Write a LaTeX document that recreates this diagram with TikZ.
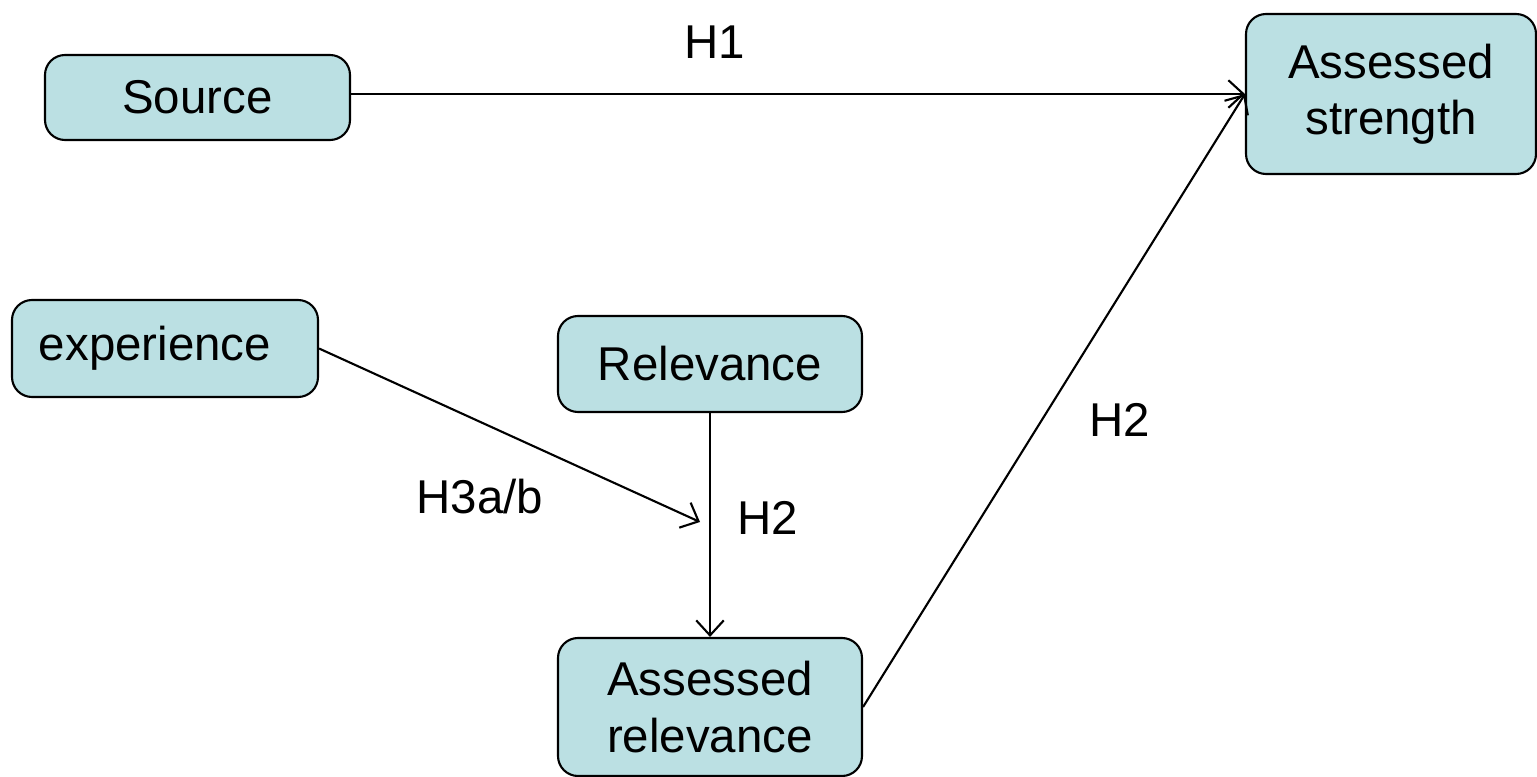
\documentclass[tikz,border=0pt]{standalone}
\usepackage{fontspec}
\setmainfont{Liberation Sans}
\usepackage{tikz}
\usetikzlibrary{positioning, arrows.meta}

\definecolor{boxfill}{HTML}{BBE0E3}

\begin{document}
\begin{tikzpicture}[
    box/.style={draw, line width=1.2pt, rounded corners=0.4cm, fill=boxfill,
                align=center, font=\fontsize{27}{32}\selectfont, inner sep=0pt},
    arr/.style={-{Straight Barb[length=0.3cm, width=0.55cm]}, line width=1.2pt},
    lbl/.style={font=\fontsize{27}{32}\selectfont},
]
\useasboundingbox (0,0) rectangle (30.74,15.52);

\node[box, minimum width=6.1cm, minimum height=1.7cm] (source) at (3.95,13.57) {Source};
\node[box, minimum width=5.8cm, minimum height=3.2cm] (strength) at (27.82,13.64) {Assessed\\strength};
\node[box, minimum width=6.12cm, minimum height=1.94cm] (exper) at (3.30,8.55) {\hspace*{-0.4cm}experience};
\node[box, minimum width=6.08cm, minimum height=1.92cm] (relev) at (14.2,8.24) {Relevance};
\node[box, minimum width=6.08cm, minimum height=2.76cm] (arelev) at (14.2,1.38) {Assessed\\relevance};

\coordinate (modpt) at (14.0,5.08);

\draw[arr] (source.east |- strength.west) -- (strength.west);
\draw[arr] (arelev.east) -- (strength.west);
\draw[arr] (exper.east) -- (modpt);
\draw[arr] (relev.south) -- (arelev.north);

\node[lbl] (h1) at (14.3,14.68) {H1};
\node[lbl] (h2a) at (22.4,7.12) {H2};
\node[lbl] (h3) at (9.6,5.58) {H3a/b};
\node[lbl] (h2b) at (15.36,5.16) {H2};

\end{tikzpicture}
\end{document}
